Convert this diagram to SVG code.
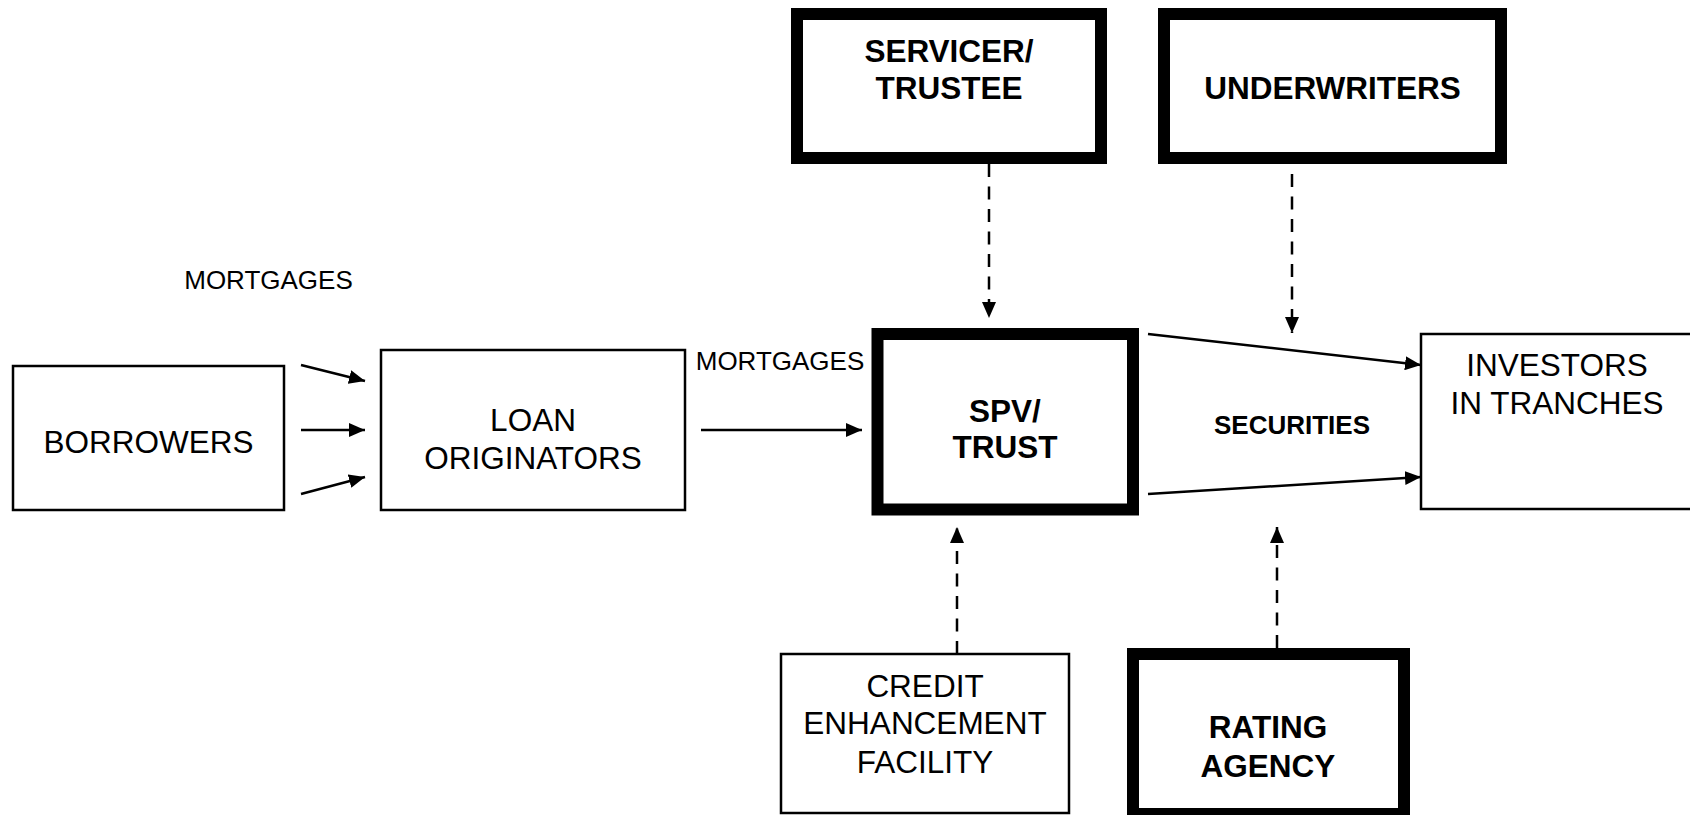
<svg xmlns="http://www.w3.org/2000/svg" width="1690" height="815" viewBox="0 0 1690 815">
<defs>
<style>
.thin{fill:#fff;stroke:#000;stroke-width:2.5}
.thick{fill:#fff;stroke:#000;stroke-width:12}
.t{font-family:"Liberation Sans",Arial,sans-serif;font-size:31.5px;fill:#000;text-anchor:middle}
.b{font-family:"Liberation Sans",Arial,sans-serif;font-size:31.5px;font-weight:bold;fill:#000;text-anchor:middle}
.s{font-family:"Liberation Sans",Arial,sans-serif;font-size:26px;fill:#000;text-anchor:middle}
.sb{font-family:"Liberation Sans",Arial,sans-serif;font-size:26px;font-weight:bold;fill:#000;text-anchor:middle}
.c{fill:none;stroke:#000;stroke-width:2.5}
.d{fill:none;stroke:#000;stroke-width:2.5;stroke-dasharray:13 9.5}
</style>
<marker id="ah" markerUnits="userSpaceOnUse" markerWidth="18" markerHeight="14" refX="16" refY="7" orient="auto">
<path d="M0,0 L16,7 L0,14 z" fill="#000"/>
</marker>
</defs>
<rect width="1690" height="815" fill="#fff"/>
<g id="borrowers">
<rect class="thin" x="13" y="366" width="271" height="144"/>
<text class="t" x="148.5" y="453">BORROWERS</text>
</g>
<g id="loan-originators">
<rect class="thin" x="381" y="350" width="304" height="160"/>
<text class="t" x="533" y="431">LOAN</text>
<text class="t" x="533" y="469">ORIGINATORS</text>
</g>
<g id="spv-trust">
<rect class="thick" x="877.5" y="334" width="255.5" height="175.5"/>
<text class="b" x="1005" y="422">SPV/</text>
<text class="b" x="1005" y="458">TRUST</text>
</g>
<g id="servicer-trustee">
<rect class="thick" x="797" y="14" width="304" height="144"/>
<text class="b" x="949" y="62">SERVICER/</text>
<text class="b" x="949" y="99">TRUSTEE</text>
</g>
<g id="underwriters">
<rect class="thick" x="1164" y="14" width="337" height="144"/>
<text class="b" x="1332.5" y="99">UNDERWRITERS</text>
</g>
<g id="investors">
<rect class="thin" x="1421" y="334" width="290" height="175"/>
<text class="t" x="1557" y="376">INVESTORS</text>
<text class="t" x="1557" y="414">IN TRANCHES</text>
</g>
<g id="credit-enhancement">
<rect class="thin" x="781" y="654" width="288" height="159"/>
<text class="t" x="925" y="697">CREDIT</text>
<text class="t" x="925" y="734">ENHANCEMENT</text>
<text class="t" x="925" y="773">FACILITY</text>
</g>
<g id="rating-agency">
<rect class="thick" x="1133" y="654" width="271" height="160"/>
<text class="b" x="1268" y="738">RATING</text>
<text class="b" x="1268" y="777">AGENCY</text>
</g>
<g id="connectors">
<line class="c" x1="301" y1="365" x2="365" y2="381" marker-end="url(#ah)"/>
<line class="c" x1="301" y1="430" x2="365" y2="430" marker-end="url(#ah)"/>
<line class="c" x1="301" y1="494" x2="365" y2="477" marker-end="url(#ah)"/>
<line class="c" x1="701" y1="430" x2="862" y2="430" marker-end="url(#ah)"/>
<line class="c" x1="1148" y1="334" x2="1421" y2="365" marker-end="url(#ah)"/>
<line class="c" x1="1148" y1="494" x2="1421" y2="477" marker-end="url(#ah)"/>
<line class="d" x1="989" y1="164" x2="989" y2="318" marker-end="url(#ah)"/>
<line class="d" x1="1292" y1="174" x2="1292" y2="333" marker-end="url(#ah)"/>
<line class="d" x1="957" y1="654" x2="957" y2="527" marker-end="url(#ah)"/>
<line class="d" x1="1277" y1="648" x2="1277" y2="527" marker-end="url(#ah)"/>
<text class="s" x="268.5" y="289">MORTGAGES</text>
<text class="s" x="780" y="370">MORTGAGES</text>
<text class="sb" x="1292" y="434">SECURITIES</text>
</g>
</svg>
